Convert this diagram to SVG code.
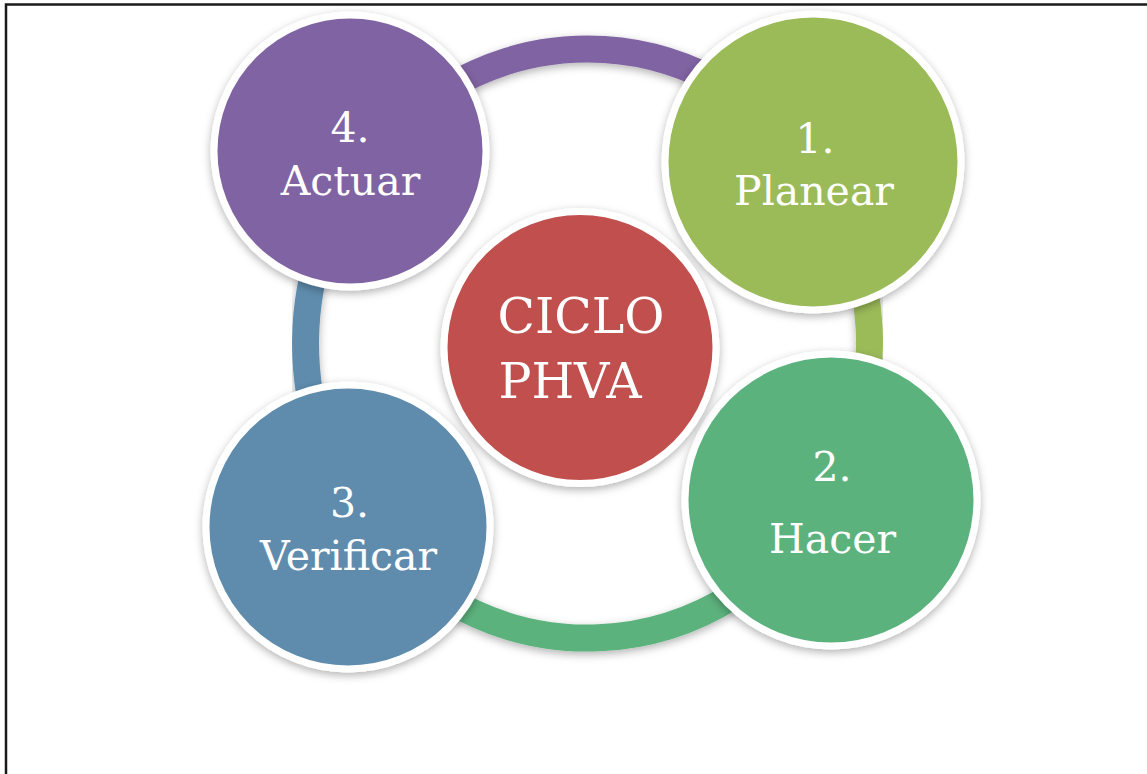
<svg xmlns="http://www.w3.org/2000/svg" width="1147" height="774" viewBox="0 0 1147 774">
  <defs>
    <filter id="soft" x="-20%" y="-20%" width="140%" height="140%">
      <feDropShadow dx="0" dy="3" stdDeviation="4" flood-color="#000" flood-opacity="0.3"/>
    </filter>
    <style>
      .frame { fill: none; stroke: #1a1a1a; stroke-width: 2.5; }
      .ring { fill: none; stroke-width: 27; filter: url(#soft); }
      .disc { stroke: #ffffff; stroke-width: 7; filter: url(#soft); }
      .lbl { font-family: "DejaVu Serif", "Liberation Serif", serif; fill: #ffffff; font-size: 41px; text-anchor: middle; }
      .big { font-size: 49px; }
    </style>
  </defs>

  <rect width="1147" height="774" fill="#ffffff"/>
  <path class="frame" d="M6,774 V4.5 H1147"/>

  <!-- cycle ring, one coloured segment per step -->
  <g id="connectors">
    <path class="ring" stroke="#8064A2" d="M368.4,158.2 A282,294.5 0 0 1 806.6,158.2"/>
    <path class="ring" stroke="#9BBB59" d="M806.6,158.2 A282,294.5 0 0 1 824.1,503.9"/>
    <path class="ring" stroke="#5BB27D" d="M824.1,503.9 A282,294.5 0 0 1 363.8,522.8"/>
    <path class="ring" stroke="#5F8CAD" d="M363.8,522.8 A282,294.5 0 0 1 368.4,158.2"/>
  </g>

  <g id="actuar">
    <circle class="disc" cx="350" cy="151" r="136" fill="#8064A2"/>
    <text class="lbl" x="350" y="142">4.</text>
    <text class="lbl" x="350.5" y="195">Actuar</text>
  </g>

  <g id="planear">
    <circle class="disc" cx="813" cy="162" r="148" fill="#9BBB59"/>
    <text class="lbl" x="815" y="153">1.</text>
    <text class="lbl" x="814" y="205">Planear</text>
  </g>

  <g id="hacer">
    <circle class="disc" cx="831" cy="500" r="146" fill="#5BB27D"/>
    <text class="lbl" x="832" y="481">2.</text>
    <text class="lbl" x="832.5" y="553">Hacer</text>
  </g>

  <g id="verificar">
    <circle class="disc" cx="348" cy="527" r="142" fill="#5F8CAD"/>
    <text class="lbl" x="349.5" y="517">3.</text>
    <text class="lbl" x="348.5" y="570">Verificar</text>
  </g>

  <g id="ciclo">
    <circle class="disc" cx="580" cy="347.5" r="136" fill="#C0504D"/>
    <text class="lbl big" x="581" y="333">CICLO</text>
    <text class="lbl big" x="570" y="398">PHVA</text>
  </g>
</svg>
